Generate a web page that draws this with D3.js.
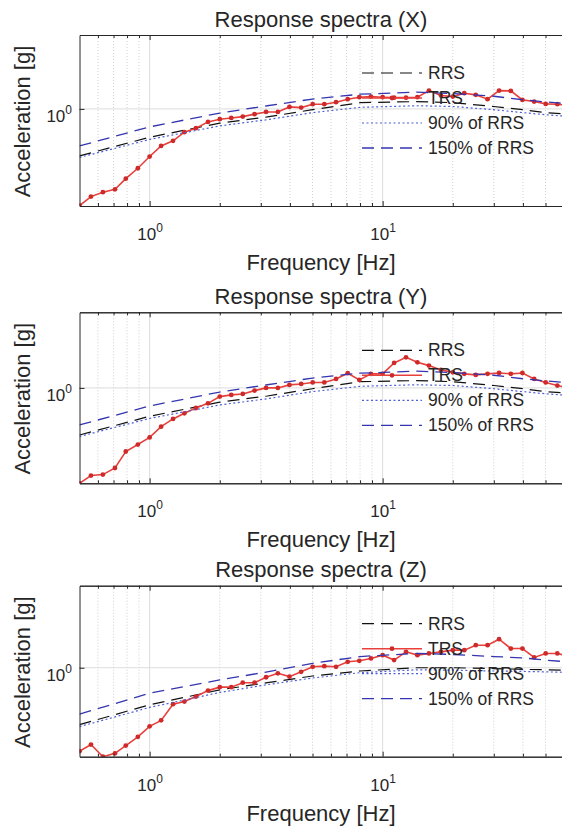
<!DOCTYPE html>
<html>
<head>
<meta charset="utf-8">
<script src="https://cdn.jsdelivr.net/npm/d3@7"></script>
<style>
body { margin: 0; background: #fff; }
svg { display: block; font-family: "Liberation Sans", Arial, sans-serif; }
</style>
</head>
<body>
<script>
// Response spectra plots (TRS vs RRS), three directions

// Frequencies of the TRS points [Hz]
var freq = [0.5, 0.56, 0.63, 0.71, 0.79, 0.89, 1.0, 1.12, 1.26, 1.41, 1.58, 1.78,
    2.0, 2.24, 2.51, 2.82, 3.16, 3.55, 3.98, 4.47, 5.01, 5.62, 6.31, 7.08, 7.94, 8.91,
    10, 11.2, 12.6, 14.1, 15.8, 17.8, 20, 22.4, 25.1, 28.2, 31.6, 35.5, 39.8, 44.7,
    50.1, 56.2, 63.1];

// Test response spectra [g]
var trsX = [0.301, 0.337, 0.356, 0.369, 0.421, 0.479, 0.554, 0.632, 0.673, 0.749, 0.787, 0.851,
    0.880, 0.894, 0.909, 0.937, 0.963, 0.963, 1.025, 1.016, 1.06, 1.06, 1.087, 1.128, 1.156, 1.165,
    1.156, 1.15, 1.15, 1.156, 1.255, 1.18, 1.165, 1.215, 1.19, 1.128, 1.255, 1.25, 1.118, 1.095,
    1.064, 1.06, 1.04];
var trsY = [0.307, 0.338, 0.342, 0.371, 0.455, 0.496, 0.542, 0.619, 0.681, 0.73, 0.78, 0.826,
    0.898, 0.917, 0.928, 0.967, 1.0, 1.0, 1.038, 1.05, 1.07, 1.07, 1.118, 1.2, 1.104, 1.19,
    1.19, 1.362, 1.46, 1.373, 1.318, 1.25, 1.213, 1.19, 1.175, 1.19, 1.203, 1.19, 1.203, 1.118,
    1.07, 1.03, 1.0];
var trsZ = [0.353, 0.384, 0.33, 0.344, 0.379, 0.423, 0.482, 0.519, 0.635, 0.656, 0.698, 0.752,
    0.785, 0.785, 0.83, 0.83, 0.888, 0.933, 0.895, 0.95, 1.012, 1.02, 1.012, 1.077, 1.09, 1.123,
    1.17, 1.1, 1.219, 1.17, 1.195, 1.219, 1.245, 1.245, 1.324, 1.324, 1.427, 1.27, 1.27, 1.137,
    1.195, 1.195, 1.15];

// Required response spectra [g], read at a few frequencies
var rrsFreq = [0.5, 1, 2, 3.2, 5, 8, 14, 20, 30, 40, 50, 60, 100];
var rrsXY   = [0.558, 0.704, 0.838, 0.905, 0.99, 1.08, 1.095, 1.08, 1.03, 0.99, 0.955, 0.94, 0.9];
var rrs90XY = [0.548, 0.685, 0.81, 0.875, 0.955, 1.02, 1.04, 1.03, 0.99, 0.955, 0.93, 0.915, 0.88];
var rrs150XY = [0.632, 0.80, 0.95, 1.04, 1.13, 1.2, 1.23, 1.21, 1.17, 1.12, 1.09, 1.07, 1.02];
var rrsZ    = [0.492, 0.63, 0.759, 0.83, 0.902, 0.96, 1.0, 1.0, 0.99, 0.98, 0.975, 0.97, 0.95];
var rrs90Z  = [0.48, 0.61, 0.735, 0.81, 0.88, 0.94, 0.975, 0.97, 0.96, 0.955, 0.95, 0.945, 0.93];
var rrs150Z = [0.561, 0.728, 0.859, 0.95, 1.056, 1.15, 1.195, 1.18, 1.15, 1.13, 1.1, 1.08, 1.04];

var titles = ["Response spectra (X)", "Response spectra (Y)", "Response spectra (Z)"];
var yLims = [[0.30, 2.5], [0.307, 2.55], [0.33, 2.78]];
var legendLabels = ["RRS", "TRS", "90% of RRS", "150% of RRS"];
var majorTicks = [1, 10, 100];
var labelTicks = [1, 10];
var minorTicks = [0.6, 0.7, 0.8, 0.9, 2, 3, 4, 5, 6, 7, 8, 9, 20, 30, 40, 50, 60, 70, 80, 90];

var panels = [
    {trs: trsX, rrs: rrsXY, p90: rrs90XY, p150: rrs150XY},
    {trs: trsY, rrs: rrsXY, p90: rrs90XY, p150: rrs150XY},
    {trs: trsZ, rrs: rrsZ, p90: rrs90Z, p150: rrs150Z}
];

// line styles, in legend order
var styles = {
    rrs:  {stroke: "#111", dash: "12,7", width: 1.2},
    trs:  {stroke: "#e8413c", dash: null, width: 1.6},
    p90:  {stroke: "#4f5fd6", dash: "2,2.5", width: 1.2},
    p150: {stroke: "#3535b0", dash: "12,7", width: 1.3}
};
var order = ["rrs", "trs", "p90", "p150"];

// Layout
var width = 562, height = 829;
var left = 79.5;
var plotH = 171;
var panelTop = [35, 312.3, 585.7];
var decadePx = 233;
var textColor = "#262626";
var centerX = 321;

var svg = d3.select("body").append("svg")
    .attr("width", width)
    .attr("height", height);

var x = d3.scaleLog()
    .domain([0.5, 100])
    .range([left, left + decadePx * Math.log10(200)]);
var right = x.range()[1];

function powLabel(d) {
    var t = d3.select(this);
    t.text(null);
    t.append("tspan").text("10");
    t.append("tspan").attr("dy", -8).attr("font-size", 12).text(Math.round(Math.log10(d)));
}

// tick marks only, no labels
function bareAxis(sel) {
    sel.selectAll("text").remove();
}

panels.forEach(function(p, i) {
    var top = panelTop[i];
    var bottom = top + plotH;

    var y = d3.scaleLog()
        .domain(yLims[i])
        .range([bottom, top]);

    var g = svg.append("g");

    g.append("clipPath").attr("id", "clip" + i)
        .append("rect")
        .attr("x", left).attr("y", top)
        .attr("width", right - left).attr("height", plotH);

    // grid
    g.append("g").selectAll("line")
        .data(minorTicks)
        .enter().append("line")
        .attr("x1", function(d) { return x(d); })
        .attr("x2", function(d) { return x(d); })
        .attr("y1", top).attr("y2", bottom)
        .attr("stroke", "#c4c4c4")
        .attr("stroke-width", 0.8)
        .attr("stroke-dasharray", "1,2");

    g.append("g").selectAll("line")
        .data(majorTicks)
        .enter().append("line")
        .attr("x1", function(d) { return x(d); })
        .attr("x2", function(d) { return x(d); })
        .attr("y1", top).attr("y2", bottom)
        .attr("stroke", "#dcdcdc")
        .attr("stroke-width", 1);

    g.append("line")
        .attr("x1", left).attr("x2", right)
        .attr("y1", y(1)).attr("y2", y(1))
        .attr("stroke", "#dcdcdc")
        .attr("stroke-width", 1);

    // curves
    var line = d3.line()
        .x(function(d) { return x(d[0]); })
        .y(function(d) { return y(d[1]); });

    var curves = g.append("g").attr("clip-path", "url(#clip" + i + ")");

    order.forEach(function(key) {
        var fx = key === "trs" ? freq : rrsFreq;
        var pts = fx.map(function(f, k) { return [f, p[key][k]]; });
        var st = styles[key];
        curves.append("path")
            .datum(pts)
            .attr("fill", "none")
            .attr("stroke", st.stroke)
            .attr("stroke-width", st.width)
            .attr("stroke-dasharray", st.dash)
            .attr("d", line);
        if (key === "trs") {
            curves.selectAll(".mk")
                .data(pts)
                .enter().append("circle")
                .attr("cx", function(d) { return x(d[0]); })
                .attr("cy", function(d) { return y(d[1]); })
                .attr("r", 2.4)
                .attr("fill", "#cf2a2a");
        }
    });

    // axes
    g.append("g")
        .attr("transform", "translate(0," + bottom + ")")
        .attr("color", textColor)
        .call(d3.axisBottom(x).tickValues(majorTicks).tickSizeInner(-5).tickSizeOuter(0))
        .call(bareAxis);

    var axB = g.append("g")
        .attr("transform", "translate(0," + bottom + ")")
        .attr("color", textColor)
        .call(d3.axisBottom(x).tickValues(labelTicks).tickSizeInner(0).tickSizeOuter(0));
    axB.select(".domain").remove();
    axB.attr("font-size", 17).attr("font-family", null);
    axB.selectAll(".tick text")
        .attr("y", 34).attr("dy", null)
        .each(powLabel);

    g.append("g")
        .attr("transform", "translate(0," + bottom + ")")
        .attr("color", textColor)
        .call(d3.axisBottom(x).tickValues(minorTicks).tickSizeInner(-3).tickSizeOuter(0))
        .call(bareAxis);

    g.append("g")
        .attr("transform", "translate(0," + top + ")")
        .attr("color", textColor)
        .call(d3.axisTop(x).tickValues(majorTicks).tickSizeInner(-5).tickSizeOuter(0))
        .call(bareAxis);

    g.append("g")
        .attr("transform", "translate(0," + top + ")")
        .attr("color", textColor)
        .call(d3.axisTop(x).tickValues(minorTicks).tickSizeInner(-3).tickSizeOuter(0))
        .call(bareAxis);

    var axL = g.append("g")
        .attr("transform", "translate(" + left + ",0)")
        .attr("color", textColor)
        .call(d3.axisLeft(y).tickValues([1]).tickSizeInner(-5).tickSizeOuter(0));
    axL.attr("font-size", 17).attr("font-family", null);
    axL.selectAll(".tick text")
        .attr("x", -7.5).attr("y", 12.5).attr("dy", null)
        .each(powLabel);

    // texts
    g.append("text")
        .attr("x", centerX).attr("y", top - 8.5)
        .attr("text-anchor", "middle")
        .attr("font-size", 22)
        .attr("fill", textColor)
        .text(titles[i]);

    g.append("text")
        .attr("x", centerX).attr("y", bottom + 64)
        .attr("text-anchor", "middle")
        .attr("font-size", 22)
        .attr("fill", textColor)
        .text("Frequency [Hz]");

    g.append("text")
        .attr("transform", "translate(29.5," + (top + plotH / 2 + 1) + ") rotate(-90)")
        .attr("text-anchor", "middle")
        .attr("font-size", 22)
        .attr("fill", textColor)
        .text("Acceleration [g]");

    // legend (no box)
    var lg = g.append("g");
    order.forEach(function(key, k) {
        var cy = top + 38 + 25 * k;
        var st = styles[key];
        lg.append("line")
            .attr("x1", 362).attr("x2", 422)
            .attr("y1", cy).attr("y2", cy)
            .attr("stroke", st.stroke)
            .attr("stroke-width", st.width)
            .attr("stroke-dasharray", st.dash);
        if (key === "trs") {
            lg.append("circle")
                .attr("cx", 392).attr("cy", cy).attr("r", 2.4)
                .attr("fill", "#cf2a2a");
        }
        lg.append("text")
            .attr("x", 428).attr("y", cy + 6)
            .attr("font-size", 17.5)
            .attr("fill", textColor)
            .text(legendLabels[k]);
    });
});
</script>
</body>
</html>
